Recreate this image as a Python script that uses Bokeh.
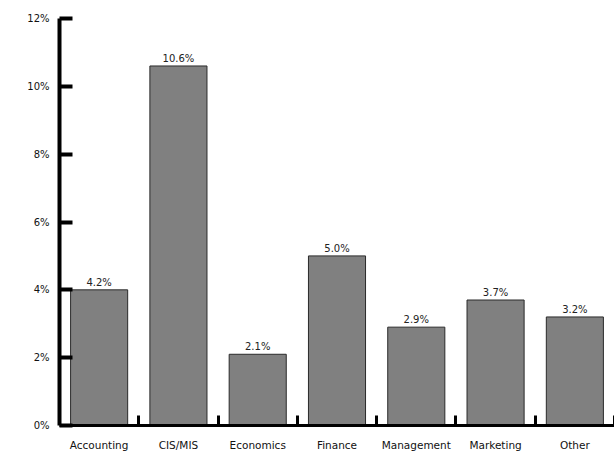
from bokeh.plotting import figure
from bokeh.models import ColumnDataSource, FixedTicker, Range1d, LabelSet
from bokeh.core.properties import value
from bokeh.embed import file_html
from bokeh.resources import INLINE

categories = ["Accounting", "CIS/MIS", "Economics", "Finance", "Management", "Marketing", "Other"]
bar_heights = [4.0, 10.6, 2.1, 5.0, 2.9, 3.7, 3.2]
bar_labels = ["4.2%", "10.6%", "2.1%", "5.0%", "2.9%", "3.7%", "3.2%"]
y_ticks = [0, 2, 4, 6, 8, 10, 12]
y_tick_labels = ["0%", "2%", "4%", "6%", "8%", "10%", "12%"]

FONT = "DejaVu Sans"

xs = [i + 0.5 for i in range(len(categories))]
src = ColumnDataSource(data=dict(x=xs, top=bar_heights, label=bar_labels, cat=categories))

p = figure(width=614, height=453, output_backend="svg", toolbar_location=None,
           x_range=Range1d(0, len(categories)), y_range=Range1d(0, 12),
           min_border_left=59, min_border_right=0, min_border_top=18, min_border_bottom=27)
p.outline_line_color = None
p.grid.visible = False

p.vbar(x="x", top="top", width=0.72, bottom=0, source=src,
       fill_color="#808080", line_color="#2a2a2a", line_width=1)

labels = LabelSet(x="x", y="top", text="label", source=src, text_align="center",
                  text_baseline="bottom", y_offset=2, text_font=value(FONT),
                  text_font_size="10px", text_color="#222222")
p.add_layout(labels)

# x axis: labels at centres, small inside ticks at category boundaries
xa = p.xaxis[0]
xa.ticker = FixedTicker(ticks=xs, minor_ticks=[float(i) for i in range(1, len(categories) + 1)])
xa.major_label_overrides = {x: c for x, c in zip(xs, categories)}
xa.major_tick_in = 0
xa.major_tick_out = 0
xa.minor_tick_in = 10
xa.minor_tick_out = 0
xa.minor_tick_line_width = 3
xa.minor_tick_line_color = "black"
xa.axis_line_width = 3
xa.axis_line_color = "black"
xa.major_label_text_font = FONT
xa.major_label_text_font_size = "10.5px"
xa.major_label_text_color = "#111111"
xa.major_label_standoff = 13

ya = p.yaxis[0]
ya.ticker = FixedTicker(ticks=y_ticks, minor_ticks=[])
ya.major_label_overrides = {t: l for t, l in zip(y_ticks, y_tick_labels)}
ya.major_tick_in = 13
ya.major_tick_out = 0
ya.major_tick_line_width = 4
ya.axis_line_width = 4
ya.axis_line_color = "black"
ya.major_tick_line_color = "black"
ya.major_label_text_font = FONT
ya.major_label_text_font_size = "10px"
ya.major_label_text_color = "#111111"
ya.major_label_standoff = 10

open("out.html", "w").write(file_html(p, INLINE))
